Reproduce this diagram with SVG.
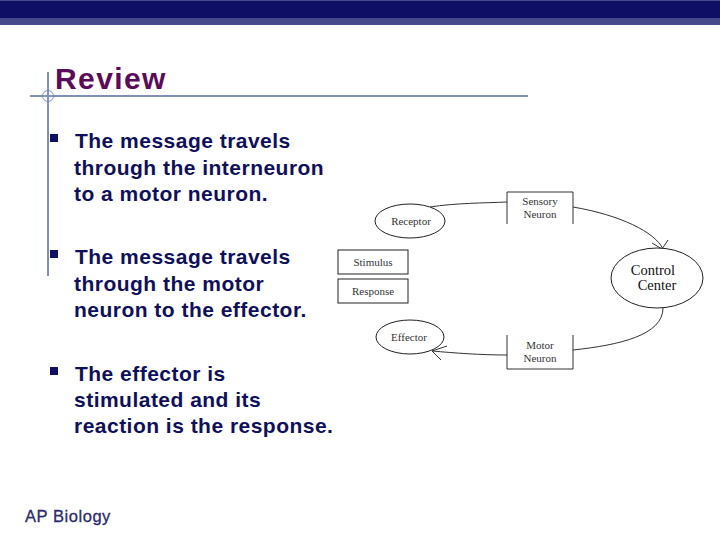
<svg xmlns="http://www.w3.org/2000/svg" width="720" height="540" viewBox="0 0 720 540">
<style>
.body{font-family:"Liberation Sans",Arial,sans-serif;font-size:21px;font-weight:700;letter-spacing:.48px;fill:#0f0f60}
.d{font-family:"Liberation Serif","Times New Roman",serif;fill:#333;font-size:11px;text-anchor:middle}
.s{fill:#fff;stroke:#222;stroke-width:1}
.c{fill:none;stroke:#333;stroke-width:1}
.g{stroke:#8090bb;fill:none;stroke-width:2}
</style>
<rect width="720" height="540" fill="#fff"/>
<rect width="720" height="25" fill="#464a8a"/>
<rect y="1" width="720" height="17" fill="#0f0f66"/>
<g id="guides">
<line class="g" x1="48" y1="72" x2="48" y2="276"/>
<line class="g" x1="30" y1="96" x2="528" y2="96"/>
<circle cx="48" cy="96" r="5.5" fill="none" stroke="#8090bb" stroke-width="1"/>
</g>
<text x="55" y="89" font-family="'Liberation Sans',Arial,sans-serif" font-size="30" font-weight="700" letter-spacing="1.4" fill="#5c0a5c">Review</text>
<g id="bullets" fill="#0f0f66">
<rect x="50" y="134" width="8" height="8"/>
<rect x="50" y="250" width="8" height="8"/>
<rect x="50" y="367" width="8" height="8"/>
</g>
<text class="body" x="75" y="148">The message travels</text>
<text class="body" x="74" y="175">through the interneuron</text>
<text class="body" x="74" y="201">to a motor neuron.</text>
<text class="body" x="75" y="264">The message travels</text>
<text class="body" x="74" y="291">through the motor</text>
<text class="body" x="74" y="317">neuron to the effector.</text>
<text class="body" x="75" y="381">The effector is</text>
<text class="body" x="74" y="407">stimulated and its</text>
<text class="body" x="74" y="433">reaction is the response.</text>
<text x="25" y="522" font-family="'Liberation Sans',Arial,sans-serif" font-size="16.5" letter-spacing=".55" fill="#2a2a70" stroke="#2a2a70" stroke-width=".3">AP Biology</text>
<g id="connectors">
<path class="c" d="M430 207C455 203 485 203 507 202"/>
<path class="c" d="M573 207C620 215 655 232 663 249"/>
<path class="c" d="M662 249L668 240M662 249L652 243"/>
<path class="c" d="M663 308C663 335 620 345 573 350"/>
<path class="c" d="M507 355C480 355 455 353 432 351"/>
<path class="c" d="M432 351L447 346M432 351L441 360"/>
</g>
<g id="receptor"><ellipse class="s" cx="410" cy="221" rx="35" ry="17"/><text class="d" x="411" y="225">Receptor</text></g>
<g id="sensory">
<path class="c" d="M507 224V192H573V224"/>
<text class="d" x="540" y="205">Sensory</text><text class="d" x="540" y="218">Neuron</text></g>
<g id="stimulus"><rect class="s" x="338" y="250" width="70" height="24"/><text class="d" x="373" y="266">Stimulus</text></g>
<g id="response"><rect class="s" x="338" y="279" width="70" height="24"/><text class="d" x="373" y="295">Response</text></g>
<g id="control"><ellipse class="s" cx="657" cy="278" rx="46" ry="30"/>
<text class="d" x="653" y="275" style="font-size:14.5px;fill:#111">Control</text><text class="d" x="657" y="290" style="font-size:14.5px;fill:#111">Center</text></g>
<g id="effector"><ellipse class="s" cx="410" cy="337" rx="34" ry="17"/><text class="d" x="409" y="341">Effector</text></g>
<g id="motor">
<path class="c" d="M507 335V369H573V335"/>
<text class="d" x="540" y="349">Motor</text><text class="d" x="540" y="362">Neuron</text></g>
</svg>
